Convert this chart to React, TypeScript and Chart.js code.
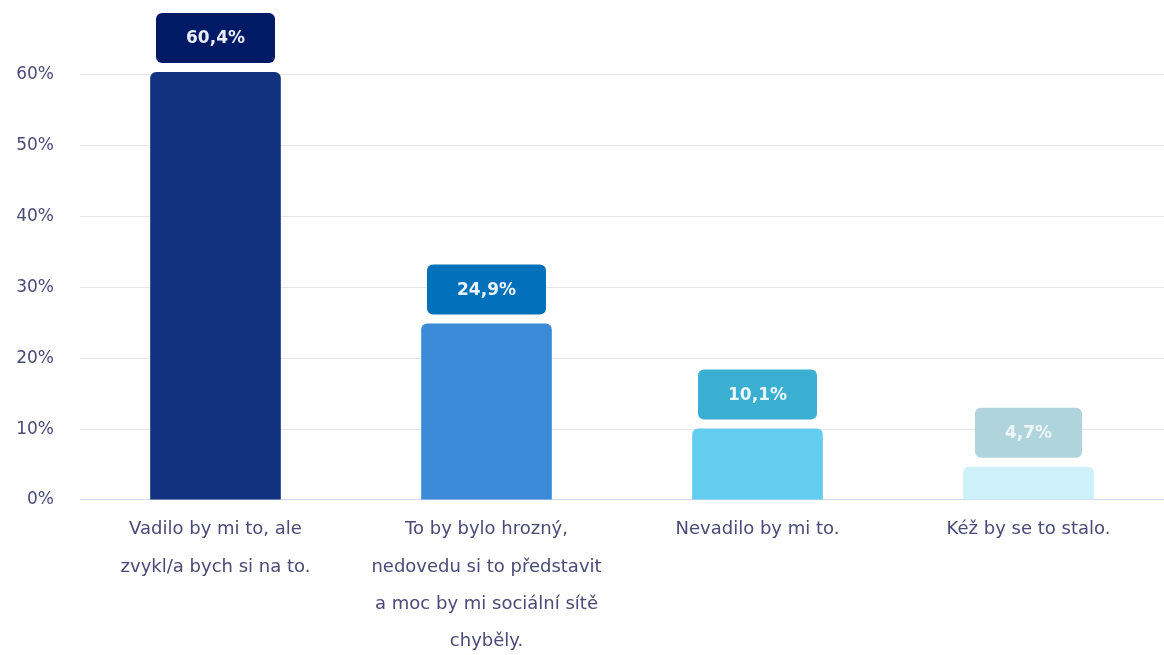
import React, { useEffect, useRef } from "react";
import { Chart, registerables } from "chart.js";

Chart.register(...registerables);

const categories: string[][] = [
  ["Vadilo by mi to, ale", "zvykl/a bych si na to."],
  ["To by bylo hrozný,", "nedovedu si to představit", "a moc by mi sociální sítě", "chyběly."],
  ["Nevadilo by mi to."],
  ["Kéž by se to stalo."],
];
const values: number[] = [60.4, 24.9, 10.1, 4.7];
const valueLabels: string[] = ["60,4%", "24,9%", "10,1%", "4,7%"];
const yTicks: number[] = [0, 10, 20, 30, 40, 50, 60];
const barColors: string[] = ["#12317e", "#3b8bd9", "#62cdef", "#cdf0f9"];
const boxColors: string[] = ["#001a66", "#0070ba", "#3aafd2", "#b0d4db"];
const boxTextColors: string[] = ["#e8ecf6", "#eaf3fb", "#eaf7fb", "#eef7f8"];

const FONT = "'DejaVu Sans', sans-serif";

const labelBoxes = {
  id: "labelBoxes",
  afterDatasetsDraw(chart: any) {
    const ctx = chart.ctx;
    const meta = chart.getDatasetMeta(0);
    ctx.save();
    ctx.font = `600 17px ${FONT}`;
    meta.data.forEach((bar: any, i: number) => {
      const text = valueLabels[i];
      const tw = ctx.measureText(text).width;
      const w = tw + 60;
      const h = 50;
      const x = bar.x - w / 2;
      const y = bar.y - 9 - h;
      ctx.fillStyle = boxColors[i];
      ctx.beginPath();
      (ctx as any).roundRect(x, y, w, h, 6);
      ctx.fill();
      ctx.fillStyle = boxTextColors[i];
      ctx.textAlign = "center";
      ctx.textBaseline = "middle";
      ctx.fillText(text, bar.x, y + h / 2 + 1);
    });
    ctx.restore();
  },
};

export default function App() {
  const ref = useRef<HTMLCanvasElement | null>(null);
  useEffect(() => {
    document.body.style.margin = "0";
    const chart = new Chart(ref.current as HTMLCanvasElement, {
      type: "bar",
      data: {
        labels: categories as any,
        datasets: [
          {
            data: values,
            backgroundColor: barColors,
            borderRadius: { topLeft: 6, topRight: 6 },
            borderSkipped: "bottom",
            categoryPercentage: 1,
            barPercentage: 0.482,
          },
        ],
      },
      options: {
        animation: false,
        responsive: false,
        maintainAspectRatio: false,
        layout: { padding: { top: 72, right: 0, left: 0, bottom: -16 } },
        plugins: { legend: { display: false }, tooltip: { enabled: false } },
        scales: {
          x: {
            grid: { display: false, drawTicks: false },
            border: { display: true, color: "#cfd5ec", width: 1 },
            ticks: {
              color: "#4a4a78",
              font: { family: FONT, size: 18, lineHeight: 2.07 },
              padding: 11,
              maxRotation: 0,
              autoSkip: false,
            },
          },
          y: {
            min: 0,
            max: Math.max(...values),
            afterBuildTicks: (scale: any) => {
              scale.ticks = yTicks.map((v) => ({ value: v }));
            },
            afterFit: (scale: any) => {
              scale.width = 80;
            },
            border: { display: false },
            grid: {
              drawTicks: false,
              color: (c: any) => (c.tick && c.tick.value === 0 ? "#cfd5ec" : "#e6e6ec"),
            },
            ticks: {
              color: "#4a4a78",
              font: { family: FONT, size: 17 },
              padding: 26,
              callback: (v: any) => `${v}%`,
            },
          },
        },
      },
      plugins: [labelBoxes],
    });
    return () => chart.destroy();
  }, []);
  return (
    <div style={{ position: "absolute", left: 0, top: 0, width: 1164, height: 655 }}>
      <canvas ref={ref} width={1164} height={655} style={{ width: 1164, height: 655 }} />
    </div>
  );
}
